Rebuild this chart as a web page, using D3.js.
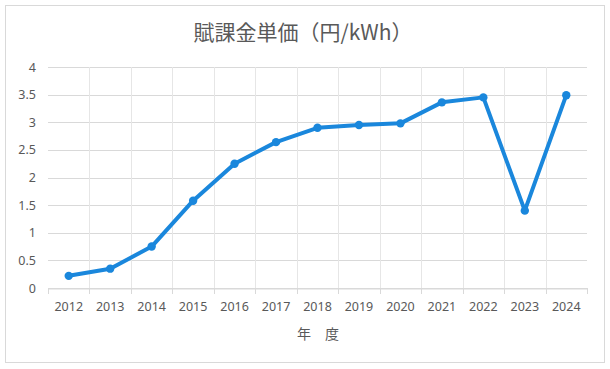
<!DOCTYPE html>
<html><head><meta charset="utf-8">
<script src="https://cdn.jsdelivr.net/npm/d3@7"></script>
<style>body{margin:0;background:#fff}svg{display:block}</style>
</head><body>
<svg id="c" width="610" height="369"></svg>
<script>
const years = ["2012","2013","2014","2015","2016","2017","2018","2019","2020","2021","2022","2023","2024"];
const values = [0.22,0.35,0.75,1.58,2.25,2.64,2.90,2.95,2.98,3.36,3.45,1.40,3.49];
const yTicks = [0,0.5,1,1.5,2,2.5,3,3.5,4];
const title = "賦課金単価（円/kWh）";
const xTitle = "年　度";

const svg = d3.select("#c");
const W=610,H=369;
const m={l:48,r:23,t:67,b:81};
svg.append("rect").attr("x",5.5).attr("y",5.5).attr("width",599).attr("height",357)
  .attr("fill","#fff").attr("stroke","#d9d9d9");

const x=d3.scaleBand().domain(years).range([m.l,W-m.r]).padding(0);
const y=d3.scaleLinear().domain([0,4]).range([H-m.b,m.t]);

const g=svg.append("g");
g.selectAll(".hg").data(yTicks).join("line")
  .attr("x1",m.l).attr("x2",W-m.r)
  .attr("y1",d=>Math.round(y(d))+0.5).attr("y2",d=>Math.round(y(d))+0.5)
  .attr("stroke","#d9d9d9");
const bounds=years.map(d=>x(d)).concat([W-m.r]);
g.selectAll(".vg").data(bounds.slice(1,-1)).join("line")
  .attr("x1",d=>Math.round(d)+0.5).attr("x2",d=>Math.round(d)+0.5)
  .attr("y1",m.t).attr("y2",H-m.b).attr("stroke","#e6e6e6");

const xa=svg.append("g").attr("transform",`translate(0,${Math.round(y(0))+0.5})`)
  .call(d3.axisBottom(x).tickSize(0).tickPadding(14));
xa.select(".domain").attr("stroke","#d9d9d9");
xa.selectAll("text").attr("fill","#595959").style("font-family","'Noto Sans','Open Sans',sans-serif").style("font-size","12.5px");
svg.append("g").selectAll("line").data(bounds).join("line")
  .attr("x1",d=>Math.round(d)+0.5).attr("x2",d=>Math.round(d)+0.5)
  .attr("y1",Math.round(y(0))).attr("y2",Math.round(y(0))+6).attr("stroke","#d9d9d9");

const ya=svg.append("g").attr("transform",`translate(${m.l},0)`)
  .call(d3.axisLeft(y).tickValues(yTicks).tickSize(0).tickPadding(12).tickFormat(d3.format("")));
ya.select(".domain").remove();
ya.selectAll("text").attr("fill","#595959").style("font-family","'Noto Sans','Open Sans',sans-serif").style("font-size","12.5px");

const line=d3.line().x((d,i)=>x(years[i])+x.bandwidth()/2).y(d=>y(d));
svg.append("path").datum(values).attr("d",line).attr("fill","none")
  .attr("stroke","#1a87dc").attr("stroke-width",4).attr("stroke-linejoin","round").attr("stroke-linecap","round");
svg.selectAll(".pt").data(values).join("circle")
  .attr("cx",(d,i)=>x(years[i])+x.bandwidth()/2).attr("cy",d=>y(d)).attr("r",4.2)
  .attr("fill","#1a87dc");

svg.append("text").attr("x",303).attr("y",40).attr("text-anchor","middle")
  .attr("fill","#595959").style("font-family","'Noto Sans CJK JP',sans-serif").style("font-size","21px").text(title);
svg.append("text").attr("x",318).attr("y",339).attr("text-anchor","middle")
  .attr("fill","#595959").style("font-family","'Noto Sans CJK JP',sans-serif").style("font-size","14px").text(xTitle);
</script>
</body></html>
